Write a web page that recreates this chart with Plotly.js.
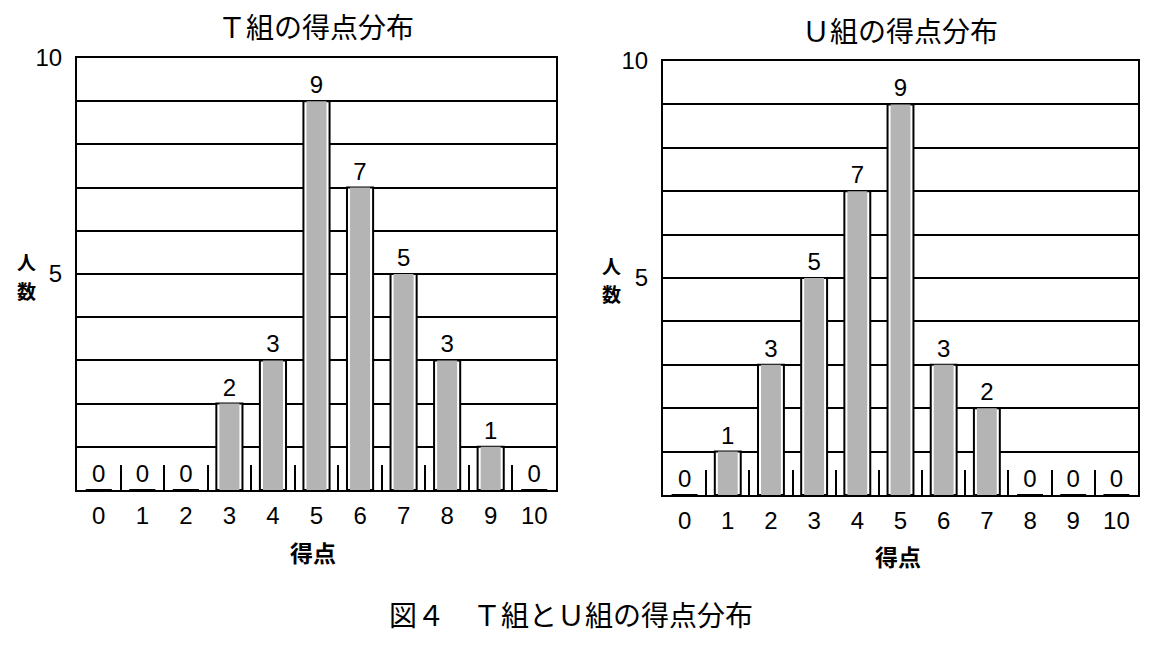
<!DOCTYPE html>
<html>
<head>
<meta charset="utf-8">
<script src="https://cdn.plot.ly/plotly-3.0.1.min.js"></script>
<style>
  html, body { margin: 0; padding: 0; background: #fff; }
  #chart { width: 1171px; height: 646px; }
</style>
</head>
<body>
<div id="chart"></div>
<script>
// 得点 (categories) and 人数 per group
const scores = ["0", "1", "2", "3", "4", "5", "6", "7", "8", "9", "10"];
const countsT = [0, 0, 0, 2, 3, 9, 7, 5, 3, 1, 0];
const countsU = [0, 1, 3, 5, 7, 9, 3, 2, 0, 0, 0];
const yTickVals = [5, 10];
const yTickText = ["5", "10"];

const FONT = "Liberation Sans, Arial, 'Noto Sans CJK JP', sans-serif";
const JP = "'Noto Sans CJK JP', 'Liberation Sans', sans-serif";
const GRAY = "#b4b4b4";

// outer white box with black outline, inner gray fill
const makeBars = (counts, xa, ya) => [
    {
        type: "bar",
        x: scores,
        y: counts,
        xaxis: xa,
        yaxis: ya,
        width: 0.6,
        marker: { color: "#fff", line: { color: "#000", width: 2 } },
        text: counts.map(String),
        textposition: "outside",
        cliponaxis: false,
        textfont: { family: FONT, size: 24, color: "#000" },
        hoverinfo: "skip"
    },
    {
        type: "bar",
        x: scores,
        y: counts,
        xaxis: xa,
        yaxis: ya,
        width: 0.46,
        marker: { color: GRAY, line: { width: 0 } },
        hoverinfo: "skip"
    }
];

const xaxisBase = (domain, anchor) => ({
    domain: domain,
    anchor: anchor,
    type: "category",
    range: [-0.5, 10.5],
    fixedrange: true,
    showline: true,
    mirror: true,
    linecolor: "#000",
    linewidth: 2,
    showgrid: false,
    ticks: "inside",
    tickson: "boundaries",
    ticklen: 25,
    tickwidth: 2,
    tickcolor: "#000",
    tickfont: { family: FONT, size: 24, color: "#000" },
    ticklabelstandoff: 3
});

const yaxisBase = (domain, anchor) => ({
    domain: domain,
    anchor: anchor,
    range: [0, 10],
    fixedrange: true,
    showline: true,
    mirror: true,
    linecolor: "#000",
    linewidth: 2,
    tickvals: yTickVals,
    ticktext: yTickText,
    ticks: "",
    ticklabelstandoff: 8,
    tickfont: { family: FONT, size: 24, color: "#000" },
    showgrid: true,
    gridcolor: "#000",
    gridwidth: 2,
    zeroline: false,
    minor: { dtick: 1, showgrid: true, gridcolor: "#000", gridwidth: 2, ticks: "" }
});

const data = [
    ...makeBars(countsT, "x", "y"),
    ...makeBars(countsU, "x2", "y2")
];

const ann = (text, x, y, size, bold) => ({
    text: bold ? "<b>" + text + "</b>" : text,
    x: x / 1171, y: 1 - y / 646, xref: "paper", yref: "paper",
    xanchor: "center", yanchor: "middle", showarrow: false,
    borderpad: 0,
    font: { family: JP, size: size, color: "#000" }
});

const layout = {
    width: 1171,
    height: 646,
    margin: { l: 0, r: 0, t: 0, b: 0 },
    paper_bgcolor: "#fff",
    plot_bgcolor: "#fff",
    showlegend: false,
    barmode: "overlay",
    xaxis: xaxisBase([77 / 1171, 556 / 1171], "y"),
    yaxis: yaxisBase([(646 - 490) / 646, (646 - 58) / 646], "x"),
    xaxis2: xaxisBase([663 / 1171, 1138 / 1171], "y2"),
    yaxis2: yaxisBase([(646 - 495) / 646, (646 - 61) / 646], "x2"),
    annotations: [
        ann("Ｔ組の得点分布", 316, 26, 28),
        ann("Ｕ組の得点分布", 900, 30, 28),
        ann("人", 26, 261, 19, true),
        ann("数", 26, 290, 19, true),
        ann("人", 611, 265, 19, true),
        ann("数", 611, 294, 19, true),
        ann("得点", 313, 552, 23, true),
        ann("得点", 898, 556, 23, true),
        ann("図４　Ｔ組とＵ組の得点分布", 571, 614, 28)
    ]
};

Plotly.newPlot("chart", data, layout, { displayModeBar: false, staticPlot: true });
</script>
</body>
</html>
